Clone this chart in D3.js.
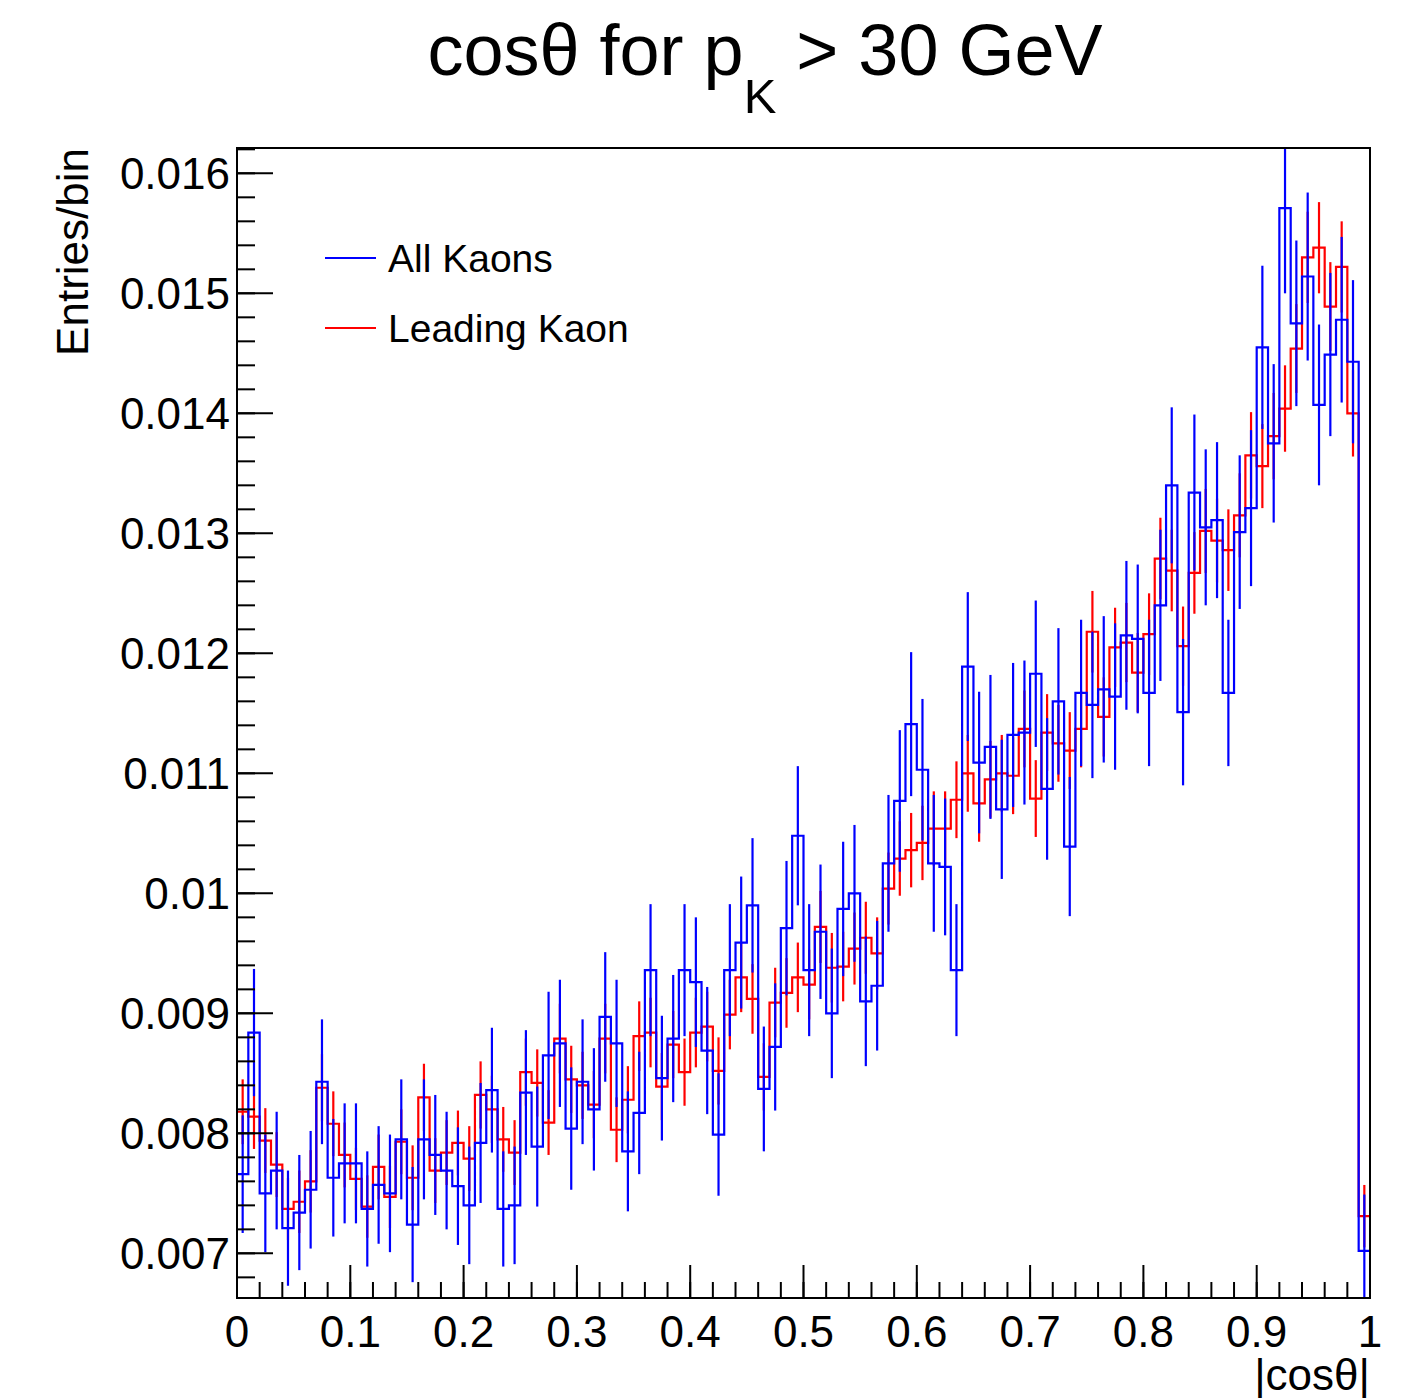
<!DOCTYPE html>
<html>
<head>
<meta charset="utf-8">
<script src="https://cdn.jsdelivr.net/npm/d3@7"></script>
<style>
  body { margin: 0; background: #fff; }
  text { font-family: "Liberation Sans", Arial, Helvetica, sans-serif; }
</style>
</head>
<body>
<script>
// histogram: 100 bins on |cos theta| in [0,1]
let nBins = 100
let xRange = [0, 1]

// All Kaons (blue)
let allKaons = [0.00766,0.00884,0.00750,0.00769,0.00721,0.00734,0.00753,0.00843,0.00763,0.00775,
    0.00775,0.00737,0.00757,0.00750,0.00795,0.00724,0.00795,0.00782,0.00769,0.00756,
    0.00740,0.00792,0.00836,0.00737,0.00740,0.00834,0.00789,0.00865,0.00875,0.00804,
    0.00843,0.00820,0.00897,0.00875,0.00785,0.00817,0.00936,0.00846,0.00879,0.00936,
    0.00926,0.00869,0.00799,0.00936,0.00959,0.00990,0.00837,0.00872,0.00971,0.01048,
    0.00936,0.00968,0.00900,0.00987,0.01000,0.00910,0.00923,0.01025,0.01077,0.01141,
    0.01103,0.01025,0.01022,0.00936,0.01189,0.01109,0.01122,0.01070,0.01132,0.01134,
    0.01183,0.01087,0.01160,0.01039,0.01167,0.01157,0.01170,0.01164,0.01215,0.01212,
    0.01167,0.01240,0.01340,0.01151,0.01334,0.01305,0.01311,0.01167,0.01301,0.01321,
    0.01455,0.01375,0.01571,0.01475,0.01514,0.01407,0.01449,0.01478,0.01443,0.00702]

// errors in units of 1e-4
let allKaonsErr = [4.9,5.3,4.9,4.9,4.8,4.8,4.9,5.2,4.9,5.0,
    5.0,4.8,4.9,4.9,5.0,4.8,5.0,5.0,4.9,4.9,
    4.9,5.0,5.2,4.8,4.9,5.2,5.0,5.3,5.3,5.1,
    5.2,5.1,5.4,5.3,5.0,5.1,5.5,5.2,5.3,5.5,
    5.4,5.3,5.1,5.5,5.5,5.6,5.2,5.3,5.6,5.8,
    5.5,5.6,5.4,5.6,5.7,5.4,5.4,5.7,5.9,6.0,
    5.9,5.7,5.7,5.5,6.2,5.9,6.0,5.8,6.0,6.0,
    6.1,5.9,6.1,5.8,6.1,6.1,6.1,6.1,6.2,6.2,
    6.1,6.3,6.5,6.1,6.5,6.5,6.5,6.1,6.4,6.5,
    6.8,6.6,7.1,6.9,7.0,6.7,6.8,6.9,6.8,4.7]

// Leading Kaon (red)
let leadingKaon = [0.00818,0.00814,0.00794,0.00774,0.00737,0.00743,0.00760,0.00838,0.00808,0.00782,
    0.00762,0.00739,0.00772,0.00747,0.00793,0.00763,0.00830,0.00769,0.00784,0.00792,
    0.00779,0.00832,0.00820,0.00795,0.00784,0.00851,0.00842,0.00809,0.00879,0.00845,
    0.00840,0.00824,0.00879,0.00803,0.00828,0.00881,0.00884,0.00839,0.00874,0.00851,
    0.00884,0.00889,0.00852,0.00899,0.00930,0.00912,0.00847,0.00909,0.00917,0.00930,
    0.00924,0.00972,0.00938,0.00939,0.00954,0.00963,0.00950,0.01004,0.01029,0.01036,
    0.01042,0.01054,0.01054,0.01078,0.01100,0.01075,0.01095,0.01100,0.01098,0.01137,
    0.01079,0.01134,0.01125,0.01119,0.01137,0.01218,0.01147,0.01205,0.01209,0.01184,
    0.01216,0.01279,0.01269,0.01206,0.01267,0.01302,0.01294,0.01286,0.01315,0.01365,
    0.01356,0.01381,0.01404,0.01454,0.01530,0.01538,0.01489,0.01522,0.01400,0.00731]

let leadingKaonErr = [2.7,2.7,2.7,2.7,2.6,2.6,2.6,2.8,2.7,2.7,
    2.6,2.6,2.7,2.6,2.7,2.7,2.8,2.7,2.7,2.7,
    2.7,2.8,2.8,2.7,2.7,2.8,2.8,2.7,2.9,2.8,
    2.8,2.8,2.9,2.7,2.8,2.9,2.9,2.8,2.8,2.8,
    2.9,2.9,2.8,2.9,2.9,2.9,2.8,2.9,2.9,2.9,
    2.9,3.0,2.9,2.9,3.0,3.0,3.0,3.0,3.1,3.1,
    3.1,3.1,3.1,3.2,3.2,3.2,3.2,3.2,3.2,3.2,
    3.2,3.2,3.2,3.2,3.2,3.4,3.3,3.3,3.3,3.3,
    3.4,3.4,3.4,3.3,3.4,3.5,3.5,3.4,3.5,3.6,
    3.5,3.6,3.6,3.7,3.8,3.8,3.7,3.8,3.6,2.6]

let xTickLabels = ["0", "0.1", "0.2", "0.3", "0.4", "0.5", "0.6", "0.7", "0.8", "0.9", "1"]
let yTickLabels = ["0.007", "0.008", "0.009", "0.01", "0.011", "0.012", "0.013", "0.014", "0.015", "0.016"]
let yRange = [0.006628, 0.016211]

let series = [
    { name: "Leading Kaon", values: leadingKaon, err: leadingKaonErr, color: "#ff0000" },
    { name: "All Kaons", values: allKaons, err: allKaonsErr, color: "#0000ff" }
]

// setup canvas
let width = 1414
let height = 1398
let padLeft = 237, padRight = 1370, padTop = 148, padBottom = 1298

let svg = d3.select("body").append("svg")
    .attr("width", width)
    .attr("height", height)
    .attr("class", "canvas")

let x = d3.scaleLinear().domain(xRange).range([padLeft, padRight])
let y = d3.scaleLinear().domain(yRange).range([padBottom, padTop])
let binW = (xRange[1] - xRange[0]) / nBins

svg.append("clipPath").attr("id", "frame")
    .append("rect")
    .attr("x", padLeft).attr("y", padTop)
    .attr("width", padRight - padLeft).attr("height", padBottom - padTop)

// histograms
let step = d3.line()
    .x(d => x(d[0]))
    .y(d => y(d[1]))
    .curve(d3.curveStepAfter)

let plot = svg.append("g").attr("clip-path", "url(#frame)")

series.forEach(s => {
    let pts = s.values.map((v, i) => [xRange[0] + i * binW, v])
    pts.push([xRange[1], s.values[nBins - 1]])

    let g = plot.append("g")
    g.append("path")
        .datum(pts)
        .attr("d", step)
        .attr("fill", "none")
        .attr("stroke", s.color)
        .attr("stroke-width", 2.2)

    g.selectAll("line")
        .data(s.values)
        .enter()
        .append("line")
            .attr("x1", (d, i) => x(xRange[0] + (i + 0.5) * binW))
            .attr("x2", (d, i) => x(xRange[0] + (i + 0.5) * binW))
            .attr("y1", (d, i) => y(d - s.err[i] * 1e-4))
            .attr("y2", (d, i) => y(d + s.err[i] * 1e-4))
            .attr("stroke", s.color)
            .attr("stroke-width", 2.2)
})

// axes: ticks pointing inwards like ROOT
let axes = svg.append("g").attr("stroke", "#000").attr("stroke-width", 2)

let yMinor = d3.range(0.0066, 0.01621, 0.0002).filter(v => v >= yRange[0] && v <= yRange[1])
axes.selectAll(".ymin")
    .data(yMinor)
    .enter()
    .append("line")
        .attr("x1", padLeft).attr("x2", padLeft + 18)
        .attr("y1", d => y(d)).attr("y2", d => y(d))

axes.selectAll(".ymaj")
    .data(yTickLabels)
    .enter()
    .append("line")
        .attr("x1", padLeft).attr("x2", padLeft + 36)
        .attr("y1", d => y(+d)).attr("y2", d => y(+d))

let xMinor = d3.range(0, 51).map(i => i * 0.02)
axes.selectAll(".xmin")
    .data(xMinor)
    .enter()
    .append("line")
        .attr("x1", d => x(d)).attr("x2", d => x(d))
        .attr("y1", padBottom).attr("y2", padBottom - 16)

axes.selectAll(".xmaj")
    .data(xTickLabels)
    .enter()
    .append("line")
        .attr("x1", d => x(+d)).attr("x2", d => x(+d))
        .attr("y1", padBottom).attr("y2", padBottom - 33)

// frame
svg.append("rect")
    .attr("x", padLeft).attr("y", padTop)
    .attr("width", padRight - padLeft).attr("height", padBottom - padTop)
    .attr("fill", "none")
    .attr("stroke", "#000")
    .attr("stroke-width", 2)

// tick labels
svg.selectAll(".ylab")
    .data(yTickLabels)
    .enter()
    .append("text")
        .attr("x", 230)
        .attr("y", d => y(+d) + 16)
        .attr("text-anchor", "end")
        .attr("font-size", 44)
        .text(d => d)

svg.selectAll(".xlab")
    .data(xTickLabels)
    .enter()
    .append("text")
        .attr("x", d => x(+d))
        .attr("y", 1347)
        .attr("text-anchor", "middle")
        .attr("font-size", 44)
        .text(d => d)

// axis titles
svg.append("text")
    .attr("transform", "translate(88," + padTop + ") rotate(-90)")
    .attr("text-anchor", "end")
    .attr("font-size", 44)
    .text("Entries/bin")

svg.append("text")
    .attr("x", padRight)
    .attr("y", 1390)
    .attr("text-anchor", "end")
    .attr("font-size", 44)
    .text("|cos\u03b8|")

// title
let title = svg.append("text")
    .attr("x", 765)
    .attr("y", 75)
    .attr("text-anchor", "middle")
    .attr("font-size", 72)
title.append("tspan").text("cos\u03b8 for p")
title.append("tspan").attr("font-size", 49).attr("dy", 38).text("K")
title.append("tspan").attr("dy", -38).text(" > 30 GeV")

// legend
let legend = svg.append("g")
let legendItems = [series[1], series[0]]
legendItems.forEach((s, i) => {
    let ly = 258 + i * 70
    legend.append("line")
        .attr("x1", 325).attr("x2", 376)
        .attr("y1", ly).attr("y2", ly)
        .attr("stroke", s.color)
        .attr("stroke-width", 2)
    legend.append("text")
        .attr("x", 388)
        .attr("y", ly + 14)
        .attr("font-size", 39)
        .text(s.name)
})
</script>
</body>
</html>
